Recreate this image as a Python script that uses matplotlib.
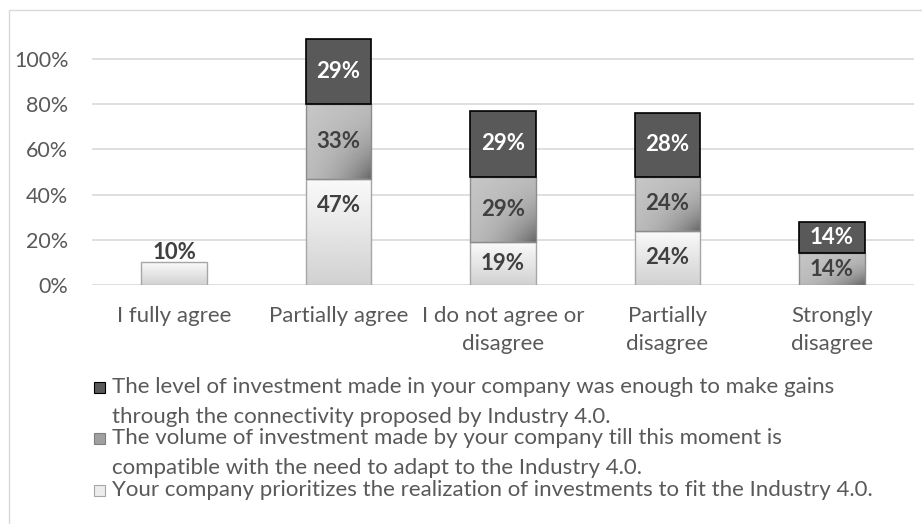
import numpy as np
import matplotlib
matplotlib.use("Agg")
import matplotlib.pyplot as plt
from matplotlib.patches import Rectangle

plt.rcParams['font.family'] = ['Lato', 'DejaVu Sans']

# data (percent)
categories = ["I fully agree", "Partially agree", "I do not agree or\ndisagree",
              "Partially\ndisagree", "Strongly\ndisagree"]
prioritizes = [10, 47, 19, 24, 0]     # light, bottom
volume = [0, 33, 29, 24, 14]          # mid, middle
level = [0, 29, 29, 28, 14]           # dark, top
legend_labels = [
    "The level of investment made in your company was enough to make gains\n"
    "through the connectivity proposed by Industry 4.0.",
    "The volume of investment made by your company till this moment is\n"
    "compatible with the need to adapt to the Industry 4.0.",
    "Your company prioritizes the realization of investments to fit the Industry 4.0.",
]
yticks = [0, 20, 40, 60, 80, 100]

W, H = 922, 524
fig = plt.figure(figsize=(W / 100, H / 100), dpi=100)
ax = fig.add_axes([92 / W, 1 - 285 / H, (914 - 92) / W, (285 - 20) / H])

# chart frame
fig.patches.append(Rectangle((9 / W, -0.1), 1.2, 1 - 10 / H + 0.1, transform=fig.transFigure,
                             fill=False, edgecolor='#d9d9d9', linewidth=1.0))

x = np.arange(len(categories))
width = 0.4
ymax = (285 - 20) / 226 * 100


def light_grad(n=64):
    v = np.linspace(0, 1, n)[:, None]
    return np.repeat(0.98 - 0.16 * v, 4, axis=1)


def mid_grad(n=64):
    u = np.linspace(0, 1, n)[None, :]
    v = np.linspace(0, 1, n)[:, None]
    return 0.78 - 0.10 * (u + v) / 2 - 0.28 * (u * v) ** 2


series = [
    # values, gradient, edge colour, label colour, edge width, is bottom series
    (prioritizes, light_grad(), '#a6a6a6', '#404040', 1.0, True),
    (volume, mid_grad(), '#8c8c8c', '#404040', 1.0, False),
    (level, None, '#000000', 'white', 1.2, False),
]

bottom = np.zeros(len(categories))
for vals, grad, edge, tcolor, lw, is_base in series:
    vals = np.array(vals, dtype=float)
    bars = ax.bar(x, vals, width, bottom=bottom,
                  facecolor='#595959' if grad is None else 'none',
                  edgecolor=edge, linewidth=lw, zorder=3)
    for i, b in enumerate(bars):
        if vals[i] <= 0:
            b.set_visible(False)
            continue
        if grad is not None:
            x0 = b.get_x()
            im = ax.imshow(grad, extent=[x0, x0 + b.get_width(), bottom[i], bottom[i] + vals[i]],
                           cmap='gray', vmin=0, vmax=1, aspect='auto', origin='upper',
                           interpolation='bilinear', zorder=2)
            im.set_clip_path(b)
        # label position
        if vals[i] < 12:
            ty = bottom[i] + vals[i] + 4.5
            col = '#404040'
        else:
            ty = bottom[i] + vals[i] / 2
            if is_base:
                ty = max(ty, bottom[i] + vals[i] - 12)
            col = tcolor
        ax.text(x[i], ty, f"{vals[i]:.0f}%", ha='center', va='center',
                fontsize=16, fontweight='bold', color=col, zorder=5)
    bottom = bottom + vals

ax.set_xlim(-0.5, len(categories) - 0.5)
ax.set_ylim(0, ymax)
ax.set_yticks(yticks)
ax.set_yticklabels([f"{t}%" for t in yticks])
ax.set_xticks(x)
ax.set_xticklabels(categories, linespacing=1.5)
ax.tick_params(axis='both', length=0, labelsize=16, colors='#595959')
ax.tick_params(axis='y', labelsize=15.5, pad=17)
ax.tick_params(axis='x', pad=15)
ax.yaxis.grid(True, color='#d9d9d9', linewidth=1.2)
ax.set_axisbelow(True)
for s in ax.spines.values():
    s.set_visible(False)

# legend drawn by hand
line_y = [[387, 417], [438, 468], [490]]
marker_style = [('#595959', '#000000'), ('#a0a0a0', '#7f7f7f'), ('#ececec', '#a6a6a6')]
for label, ys, (fc, ec) in zip(legend_labels, line_y, marker_style):
    lines = label.split("\n")
    fig.patches.append(Rectangle((94 / W, 1 - (ys[0] + 5.5) / H), 11 / W, 11 / H,
                                 transform=fig.transFigure, facecolor=fc, edgecolor=ec,
                                 linewidth=0.8))
    for txt, yy in zip(lines, ys):
        fig.text(112 / W, 1 - yy / H, txt, ha='left', va='center', fontsize=16, color='#595959')

fig.savefig("out.png", dpi=100)
